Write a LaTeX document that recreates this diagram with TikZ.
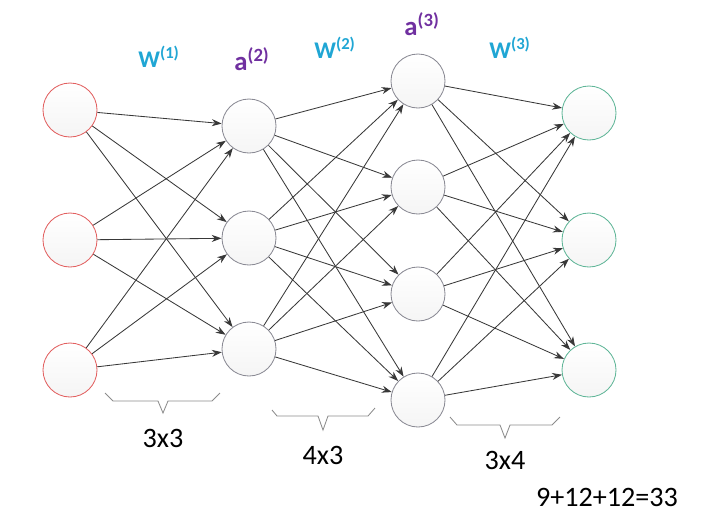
\documentclass[tikz,border=0pt]{standalone}
\usepackage{fontspec}
\setmainfont{Carlito}
\usetikzlibrary{arrows.meta}
\definecolor{wblue}{RGB}{32,166,212}
\definecolor{apurple}{RGB}{112,48,160}
\definecolor{inred}{RGB}{226,96,96}
\definecolor{hidgray}{RGB}{138,138,148}
\definecolor{outgreen}{RGB}{96,182,152}
\definecolor{edgegray}{RGB}{56,56,56}
\definecolor{bracegray}{RGB}{140,140,140}
\tikzset{
  neuron/.style={circle,draw,line width=0.6pt,minimum size=1.35cm,inner sep=0pt,
                 top color=white,bottom color=black!4},
  link/.style={edgegray,line width=0.6pt,-{Stealth[length=7pt,width=5pt]}},
  wlabel/.style={wblue,anchor=base,font=\fontsize{17}{20}\selectfont\bfseries},
  alabel/.style={apurple,anchor=base,font=\fontsize{19}{22}\selectfont\bfseries},
  dimlabel/.style={font=\fontsize{20}{24}\selectfont},
  bracket/.style={bracegray,line width=0.6pt}
}

\begin{document}
\begin{tikzpicture}[x=0.025cm,y=-0.025cm]
                    \useasboundingbox (0,0) rectangle (721,516);

                    % input layer
                    \node[neuron,draw=inred] (x1) at (70,110) {};
                    \node[neuron,draw=inred] (x2) at (70,240) {};
                    \node[neuron,draw=inred] (x3) at (70,370) {};

                    % hidden layer a(2)
                    \node[neuron,draw=hidgray] (ha1) at (249,126) {};
                    \node[neuron,draw=hidgray] (ha2) at (249,238) {};
                    \node[neuron,draw=hidgray] (ha3) at (249,349) {};

                    % hidden layer a(3)
                    \node[neuron,draw=hidgray] (hb1) at (418,81) {};
                    \node[neuron,draw=hidgray] (hb2) at (418,187) {};
                    \node[neuron,draw=hidgray] (hb3) at (418,294) {};
                    \node[neuron,draw=hidgray] (hb4) at (418,400) {};

                    % output layer
                    \node[neuron,draw=outgreen] (y1) at (589,113) {};
                    \node[neuron,draw=outgreen] (y2) at (589,240) {};
                    \node[neuron,draw=outgreen] (y3) at (589,370) {};

                    % weights
                    \foreach \i in {1,2,3}
                      \foreach \j in {1,2,3}
                        \draw[link] (x\i) -- (ha\j);
                    \foreach \i in {1,2,3}
                      \foreach \j in {1,...,4}
                        \draw[link] (ha\i) -- (hb\j);
                    \foreach \i in {1,...,4}
                      \foreach \j in {1,2,3}
                        \draw[link] (hb\i) -- (y\j);

                    % layer labels
                    \node[wlabel] (w1) at (159,67) {W\textsuperscript{(1)}};
                    \node[alabel] (a2) at (252,70) {a\textsuperscript{(2)}};
                    \node[wlabel] (w2) at (335,58) {W\textsuperscript{(2)}};
                    \node[alabel] (a3) at (422,35) {a\textsuperscript{(3)}};
                    \node[wlabel] (w3) at (510,58) {W\textsuperscript{(3)}};

                    % brackets
                    \draw[bracket] (105,393) -- (113,401) -- (158,401) -- (163,413)
                                   -- (168,401) -- (212,401) -- (220,393);
                    \draw[bracket] (272,410) -- (277,416) -- (318,416) -- (323,430)
                                   -- (328,416) -- (368,416) -- (375,408);
                    \draw[bracket] (450,417) -- (457,425) -- (500,425) -- (505,438)
                                   -- (510,425) -- (552,425) -- (560,417);

                    \node[dimlabel] (d1) at (163,438) {3x3};
                    \node[dimlabel] (d2) at (323,455) {4x3};
                    \node[dimlabel] (d3) at (505,460) {3x4};
                    \node[dimlabel] (total) at (607,497) {9+12+12=33};
                \end{tikzpicture}
\end{document}
